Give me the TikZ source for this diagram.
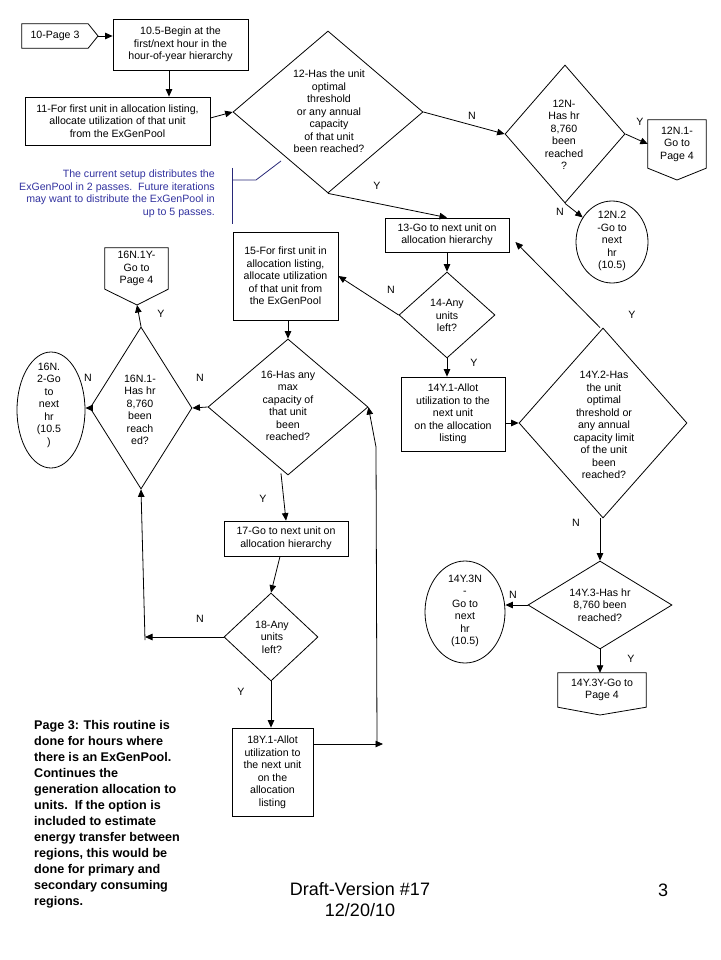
\documentclass[tikz,border=0pt]{standalone}
\usepackage{fontspec}
\setmainfont{Liberation Sans}
\usetikzlibrary{shapes.geometric,arrows.meta,calc}
\newcommand\fsz{\fontsize{10.6}{12.5}\selectfont}
\definecolor{noteblue}{RGB}{51,51,160}
\definecolor{navyln}{RGB}{40,40,120}
\tikzset{
  shp/.style={draw, line width=0.8pt},
  box/.style={shp, rectangle, inner sep=0pt, align=center, font=\fsz},
  dia/.style={shp, diamond, inner sep=0pt},
  ovl/.style={shp, ellipse, inner sep=0pt},
  txt/.style={align=center, inner sep=0pt, font=\fsz},
  lab/.style={inner sep=0pt, font=\fsz},
  arr/.style={line width=0.8pt, -{Triangle[length=7.5pt,width=6.5pt]}},
  ln/.style={line width=0.8pt},
}
\begin{document}
\begin{tikzpicture}[x=1pt,y=-1pt]
\useasboundingbox[fill=white] (0,0) rectangle (720,960);

% ---------- off-page connectors ----------
\node[txt, minimum width=66pt, minimum height=24pt] (p10) at (55,36) {10-Page 3};
\coordinate (p10tip) at (98,36);
\draw[ln] (p10.north west) -- (p10.north east) -- (p10tip) -- (p10.south east) -- (p10.south west) -- cycle;

\node[txt, minimum width=58pt, minimum height=48pt] (p12n1) at (677,144) {12N.1-\\Go to\\Page 4};
\coordinate (p12n1tip) at (677,180);
\draw[ln] (p12n1.south west) -- (p12n1.north west) -- (p12n1.north east) -- (p12n1.south east) -- (p12n1tip) -- cycle;

\node[txt, minimum width=63pt, minimum height=41pt] (p16n1y) at (136.5,268.5) {16N.1Y-\\Go to\\Page 4};
\coordinate (p16n1ytip) at (137,305);
\draw[ln] (p16n1y.south west) -- (p16n1y.north west) -- (p16n1y.north east) -- (p16n1y.south east) -- (p16n1ytip) -- cycle;

\node[txt, minimum width=88pt, minimum height=34pt] (p14y3y) at (602,690) {14Y.3Y-Go to\\Page 4};
\coordinate (p14y3ytip) at (600,715);
\draw[ln] (p14y3y.south west) -- (p14y3y.north west) -- (p14y3y.north east) -- (p14y3y.south east) -- (p14y3ytip) -- cycle;

% ---------- boxes ----------
\node[box, minimum width=135pt, minimum height=51pt] (b105) at (180.5,44.5) {10.5-Begin at the\\first/next hour in the\\hour-of-year hierarchy};
\node[box, minimum width=185pt, minimum height=48pt] (b11) at (117.5,121) {11-For first unit in allocation listing,\\allocate utilization of that unit\\from the ExGenPool};
\node[box, minimum width=124pt, minimum height=34pt] (b13) at (447,235) {13-Go to next unit on\\allocation hierarchy};
\node[box, minimum width=105pt, minimum height=88pt] (b15) at (285.5,276) {15-For first unit in\\allocation listing,\\allocate utilization\\of that unit from\\the ExGenPool};
\node[box, minimum width=104pt, minimum height=74pt] (b14y1) at (453,414) {14Y.1-Allot\\utilization to the\\next unit\\on the allocation\\listing};
\node[box, minimum width=124pt, minimum height=35pt] (b17) at (286,538.5) {17-Go to next unit on\\allocation hierarchy};
\node[box, minimum width=81pt, minimum height=88pt] (b18y1) at (272.5,772) {18Y.1-Allot\\utilization to\\the next unit\\on the\\allocation\\listing};

% ---------- diamonds ----------
\node[dia, minimum width=190pt, minimum height=162pt] (d12) at (328,112) {};
\node[txt] (t12) at (329,111.5) {12-Has the unit\\optimal\\threshold\\or any annual\\capacity\\of that unit\\been reached?};
\node[dia, minimum width=120pt, minimum height=138pt] (d12n) at (565,134) {};
\node[txt] (t12n) at (564,135) {12N-\\Has hr\\8,760\\been\\reached\\?};
\node[dia, minimum width=96pt, minimum height=86pt] (d14) at (447,315) {};
\node[txt] (t14) at (447,315.5) {14-Any\\units\\left?};
\node[dia, minimum width=160pt, minimum height=136pt] (d16) at (288,407) {};
\node[txt] (t16) at (288,406) {16-Has any\\max\\capacity of\\that unit\\been\\reached?};
\node[dia, minimum width=102pt, minimum height=162pt] (d16n1) at (141,408) {};
\node[txt] (t16n1) at (140,410) {16N.1-\\Has hr\\8,760\\been\\reach\\ed?};
\node[dia, minimum width=94pt, minimum height=88pt] (d18) at (271,637) {};
\node[txt] (t18) at (272,637) {18-Any\\units\\left?};
\node[dia, minimum width=168pt, minimum height=190pt] (d14y2) at (603,423) {};
\node[txt] (t14y2) at (604,425) {14Y.2-Has\\the unit\\optimal\\threshold or\\any annual\\capacity limit\\of the unit\\been\\reached?};
\node[dia, minimum width=144pt, minimum height=88pt] (d14y3) at (600,605) {};
\node[txt] (t14y3) at (600,605) {14Y.3-Has hr\\8,760 been\\reached?};

% ---------- ellipses ----------
\node[ovl, minimum width=72pt, minimum height=82pt] (e12n2) at (612,242) {};
\node[txt] (te12n2) at (612,241) {12N.2\\-Go to\\next\\hr\\(10.5)};
\node[ovl, minimum width=68pt, minimum height=116pt] (e16n2) at (51,410) {};
\node[txt] (te16n2) at (49,405) {16N.\\2-Go\\to\\next\\hr\\(10.5\\)};
\node[ovl, minimum width=80pt, minimum height=102pt] (e14y3n) at (465,612) {};
\node[txt] (te14y3n) at (465,611) {14Y.3N\\-\\Go to\\next\\hr\\(10.5)};

% ---------- junction coordinates ----------
\coordinate (c18) at (145,640);
\coordinate (j1tip) at (383,744);
\coordinate (j1) at (377,744);
\coordinate (j2) at (376,447);

% ---------- connectors ----------
\draw[arr] (p10tip) -- (b105.west |- p10tip);
\draw[arr] ([xshift=-11.5pt]b105.south) -- ([xshift=-11.5pt]b105.south |- b11.north);
\draw[arr] ([yshift=3pt]b11.east) -- (d12.west);
\draw[arr] (d12.east) -- (d12n.west);
\draw[arr] (d12n.east) -- (p12n1.west);
\draw[arr] (d12n.south) -- (e12n2.140);
\draw[arr] (d12.south) -- (b13.north);
\draw[arr] (b13.south) -- (d14.north);
\draw[arr] (d14.west) -- (b15.east);
\draw[arr] (d14.south) -- (d14.south |- b14y1.north);
\draw[arr] (b14y1.east |- d14y2.west) -- (d14y2.west);
\draw[arr] ([xshift=-3pt]d14y2.north) -- ([shift={(6pt,-7pt)}]b13.east);
\draw[arr] (d14y3.north |- d14y2.south) -- (d14y3.north);
\draw[arr] (d14y3.west) -- (e14y3n.east |- d14y3.west);
\draw[arr] (d14y3.south) -- (p14y3y.north -| d14y3.south);
\draw[arr] (d16.north |- b15.south) -- (d16.north);
\draw[arr] (d16.west) -- (d16n1.east);
\draw[arr] (d16n1.west) -- (e16n2.east |- d16n1.west);
\draw[arr] (d16n1.north) -- (p16n1ytip);
\draw[arr] ([shift={(-7pt,2pt)}]d16.south) -- (b17.north);
\draw[arr] ([xshift=-6pt]b17.south) -- (d18.north);
\draw[arr] (d18.west) -- (d18.west -| c18);
\draw[arr] (c18) -- (d16n1.south);
\draw[arr] (d18.south) -- (d18.south |- b18y1.north);
\draw[arr] (b18y1.east |- j1tip) -- (j1tip);
\draw[arr] (j1) -- (j2) -- (d16.east);

% ---------- Y / N labels ----------
\node[lab] (l1) at (472,116) {N};
\node[lab] (l2) at (640,122) {Y};
\node[lab] (l3) at (560,212) {N};
\node[lab] (l4) at (377,186) {Y};
\node[lab] (l5) at (391,290) {N};
\node[lab] (l6) at (474,363) {Y};
\node[lab] (l7) at (632,315) {Y};
\node[lab] (l8) at (576,523) {N};
\node[lab] (l9) at (513,595) {N};
\node[lab] (l10) at (631,659) {Y};
\node[lab] (l11) at (200,378) {N};
\node[lab] (l12) at (88,378) {N};
\node[lab] (l13) at (161,314) {Y};
\node[lab] (l14) at (263,499) {Y};
\node[lab] (l15) at (200,619) {N};
\node[lab] (l16) at (241,692) {Y};

% ---------- blue note ----------
\node[txt, align=right, anchor=east, text=noteblue] (note) at (215,194) {The current setup distributes the\\ExGenPool in 2 passes.\ \ Future iterations\\may want to distribute the ExGenPool in\\up to 5 passes.};
\coordinate (br1) at (232,168);
\coordinate (br2) at (232,224);
\coordinate (br3) at (232,180);
\coordinate (br4) at (256,180);
\coordinate (br5) at (281,161);
\draw[navyln, line width=0.8pt] (br1) -- (br2);
\draw[navyln, line width=0.8pt] (br3) -- (br4) -- (br5);

% ---------- description ----------
\node[anchor=north west, align=left, inner sep=0pt, font=\fontsize{12.6}{16}\selectfont\bfseries] (desc) at (34,720) {Page 3: This routine is\\done for hours where\\there is an ExGenPool.\\Continues the\\generation allocation to\\units.\ \ If the option is\\included to estimate\\energy transfer between\\regions, this would be\\done for primary and\\secondary consuming\\regions.};

% ---------- footer ----------
\node[align=center, inner sep=0pt, font=\fontsize{18}{21}\selectfont] (draft) at (360,900) {Draft-Version \#17\\12/20/10};
\node[inner sep=0pt, font=\fontsize{18}{21}\selectfont] (pg) at (663,890) {3};
\end{tikzpicture}
\end{document}
